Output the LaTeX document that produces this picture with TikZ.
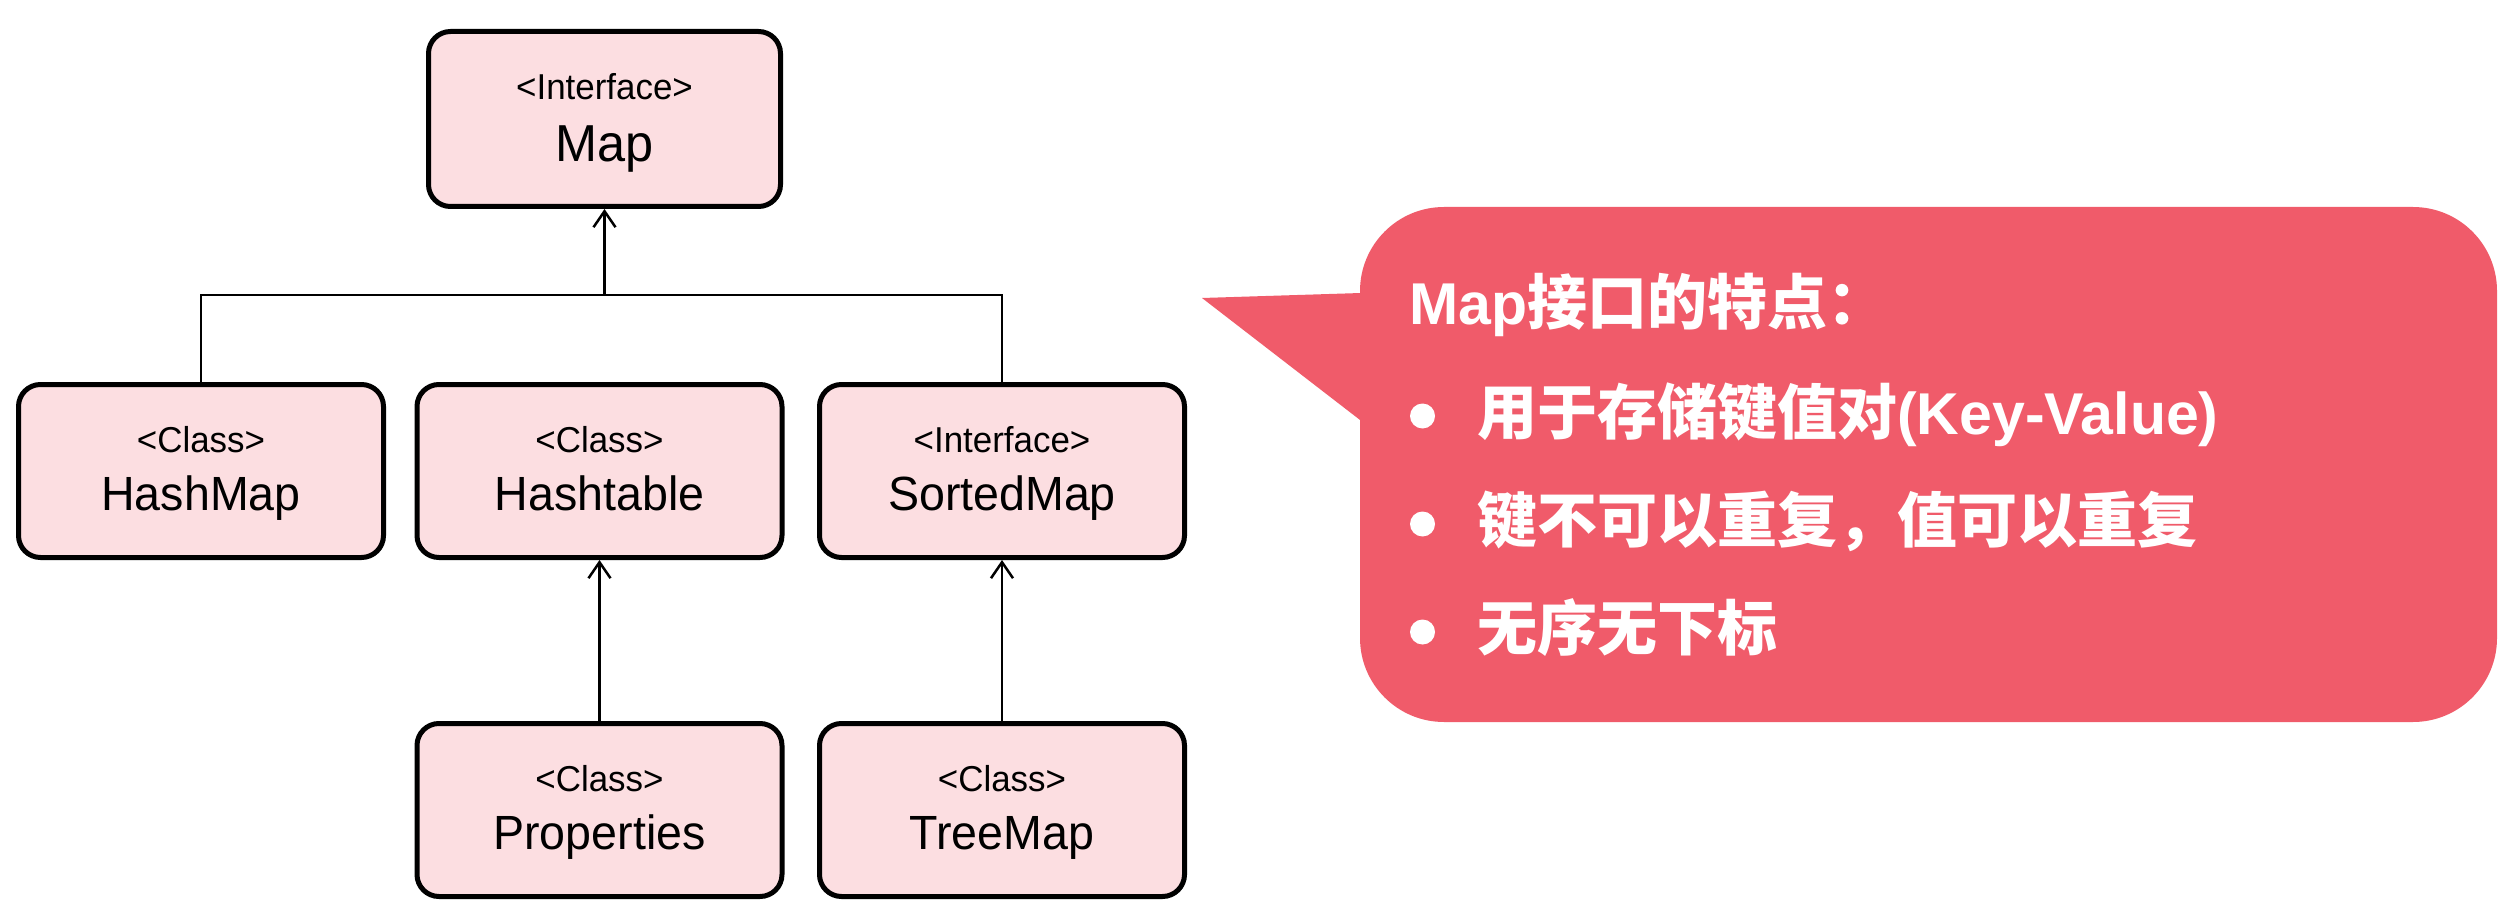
\documentclass[tikz,border=0pt]{standalone}
\usepackage{fontspec}
\setmainfont{Liberation Sans}
\newfontfamily\boxfont{Liberation Sans}[FakeStretch=0.97]
\newfontfamily\callat{Liberation Sans}
\newfontfamily\cjk{Noto Sans CJK SC}
\usetikzlibrary{arrows.meta}
\definecolor{boxfill}{RGB}{252,222,225}
\definecolor{callred}{RGB}{240,91,106}
\newcommand\mySmall{\boxfont\fontsize{36}{40}\selectfont}
\newcommand\myBig{\boxfont\fontsize{48}{54}\selectfont}
\newcommand\myMap{\boxfont\fontsize{52}{58}\selectfont}
\newcommand\myLat{\callat\bfseries\fontsize{59}{64}\selectfont}
\newcommand\myCJK{\cjk\bfseries\fontsize{60}{64}\selectfont}
\tikzset{
  umlbox/.style={draw=black, line width=5pt, fill=boxfill, rounded corners=22pt,
    minimum width=365pt, minimum height=173pt, inner sep=0pt},
  lbl/.style={anchor=base, inner sep=0pt, text=black},
  conn/.style={draw=black, line width=2.5pt},
  inh/.style={conn, -{Straight Barb[length=16pt,width=22pt]}},
  ctext/.style={anchor=base west, inner sep=0pt, text=white},
  dotmark/.style={circle, fill=white, minimum size=25pt, inner sep=0pt},
}
\begin{document}
\begin{tikzpicture}[x=1pt,y=-1pt]
\useasboundingbox (0,0) rectangle (2514,909);
\fill[white] (0,0) rectangle (2514,909);

% boxes
\node[umlbox, minimum width=352pt, minimum height=175pt] (map) at (604.5,119) {};
\node[umlbox] (hm) at (201,471) {};
\node[umlbox] (ht) at (599.5,471) {};
\node[umlbox] (sm) at (1002,471) {};
\node[umlbox] (pr) at (599.5,810) {};
\node[umlbox] (tm) at (1002,810) {};

% labels
\node[lbl, font=\mySmall] (mapS) at ([yshift=19pt]map.center) {<Interface>};
\node[lbl, font=\myMap]   (mapB) at ([yshift=-43pt]map.center) {Map};
\node[lbl, font=\mySmall] (hmS) at ([yshift=19pt]hm.center) {<Class>};
\node[lbl, font=\myBig]   (hmB) at ([yshift=-39pt]hm.center) {HashMap};
\node[lbl, font=\mySmall] (htS) at ([yshift=19pt]ht.center) {<Class>};
\node[lbl, font=\myBig]   (htB) at ([yshift=-39pt]ht.center) {Hashtable};
\node[lbl, font=\mySmall] (smS) at ([yshift=19pt]sm.center) {<Interface>};
\node[lbl, font=\myBig]   (smB) at ([yshift=-39pt]sm.center) {SortedMap};
\node[lbl, font=\mySmall] (prS) at ([yshift=19pt]pr.center) {<Class>};
\node[lbl, font=\myBig]   (prB) at ([yshift=-39pt]pr.center) {Properties};
\node[lbl, font=\mySmall] (tmS) at ([yshift=19pt]tm.center) {<Class>};
\node[lbl, font=\myBig]   (tmB) at ([yshift=-39pt]tm.center) {TreeMap};

% connectors
\coordinate (bus) at (604.5,295);
\draw[conn] (hm.north) |- (bus) -| (sm.north);
\draw[inh] (bus) -- (map.south);
\draw[inh] (pr.north) -- (ht.south);
\draw[inh] (tm.north) -- (sm.south);

% callout
\fill[callred, rounded corners=84pt] (1360,207) rectangle (2497,722);
\fill[callred] (1202,298) -- (1380,292.4) -- (1380,435.4) -- cycle;

\node[ctext] (t1) at (1409,325) {{\myLat Map}{\myCJK 接口的特点：}};
\node[dotmark] (b1) at (1422.5,416) {};
\node[ctext] (t2) at (1477,434) {{\myCJK 用于存储键值对}{\myLat (Key-Value)}};
\node[dotmark] (b2) at (1422.5,524) {};
\node[ctext] (t3) at (1477,542) {\myCJK 键不可以重复，值可以重复};
\node[dotmark] (b3) at (1422.5,632) {};
\node[ctext] (t4) at (1477,650) {\myCJK 无序无下标};
\end{tikzpicture}
\end{document}
